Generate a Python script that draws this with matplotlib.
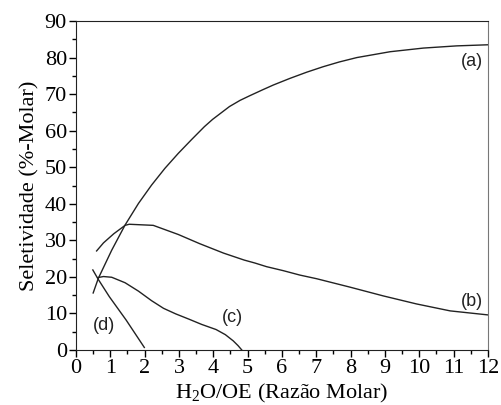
import matplotlib
matplotlib.use('Agg')
import matplotlib.pyplot as plt
from matplotlib.ticker import MultipleLocator

plt.rcParams['font.family'] = ['Liberation Serif', 'DejaVu Serif']
plt.rcParams['mathtext.default'] = 'regular'

# curve (a)
xa = [0.5, 0.65, 1.04, 1.43, 1.82, 2.2, 2.59, 2.98, 3.37, 3.74, 3.98, 4.47,
      4.78, 5.07, 5.44, 5.75, 6.23, 6.72, 7.2, 7.67, 8.18, 9.15, 10.12,
      11.09, 12.0]
ya = [15.6, 19.6, 27.3, 34.2, 40.1, 45.1, 49.7, 53.8, 57.6, 61.1, 63.1, 66.6,
      68.3, 69.6, 71.2, 72.5, 74.3, 76.0, 77.5, 78.8, 80.0, 81.6, 82.6,
      83.2, 83.5]

# curve (b)
xb = [0.6, 0.8, 1.1, 1.43, 1.55, 2.25, 2.98, 3.6, 4.3, 4.9, 5.21, 5.55,
      6.04, 6.52, 7.01, 7.98, 8.95, 9.92, 10.9, 12.0]
yb = [27.1, 29.3, 31.8, 34.1, 34.4, 34.1, 31.6, 29.1, 26.5, 24.6, 23.8, 22.8,
      21.7, 20.5, 19.5, 17.2, 14.8, 12.6, 10.7, 9.6]

# curve (c)
xc = [0.63, 0.8, 1.04, 1.43, 1.82, 2.2, 2.55, 2.9, 3.3, 3.66, 4.08, 4.35,
      4.58, 4.72, 4.83]
yc = [19.8, 20.1, 19.9, 18.4, 16.1, 13.5, 11.4, 9.9, 8.4, 7.0, 5.6, 4.2,
      2.5, 1.2, 0.0]

# curve (d)
xd = [0.49, 0.65, 0.97, 1.46, 1.99]
yd = [21.9, 19.3, 14.6, 8.2, 0.7]

fig = plt.figure(figsize=(5.02, 4.05), dpi=100)
ax = fig.add_axes([0.1514, 0.1358, 0.8206, 0.8123])

for x, y in [(xa, ya), (xb, yb), (xc, yc), (xd, yd)]:
    ax.plot(x, y, color='#222222', lw=1.0)

lab = dict(family=['Liberation Sans', 'DejaVu Sans'], fontsize=13, color='#222222')
ax.text(11.86, 81.2, '(a)', ha='right', va='top', **lab)
ax.text(11.85, 11.0, '(b)', ha='right', va='bottom', **lab)
ax.text(4.86, 6.5, '(c)', ha='right', va='bottom', **lab)
ax.text(0.48, 4.3, '(d)', ha='left', va='bottom', **lab)

ax.set_xlim(0, 12)
ax.set_ylim(0, 90)
ax.xaxis.set_major_locator(MultipleLocator(1))
ax.xaxis.set_minor_locator(MultipleLocator(0.5))
ax.yaxis.set_major_locator(MultipleLocator(10))
ax.yaxis.set_minor_locator(MultipleLocator(5))
ax.tick_params(which='both', direction='out', labelsize=16, pad=1.5)
ax.tick_params(which='major', length=5, width=1)
ax.tick_params(which='minor', length=3, width=1)

ax.spines['right'].set_color('#777777')
for s in ['left', 'bottom', 'top']:
    ax.spines[s].set_color('#222222')

ax.set_xlabel('H$_2$O/OE (Razão Molar)', fontsize=16, labelpad=3)
ax.set_ylabel('Seletividade (%-Molar)', fontsize=16, labelpad=4)

fig.savefig('out.png', dpi=100)
